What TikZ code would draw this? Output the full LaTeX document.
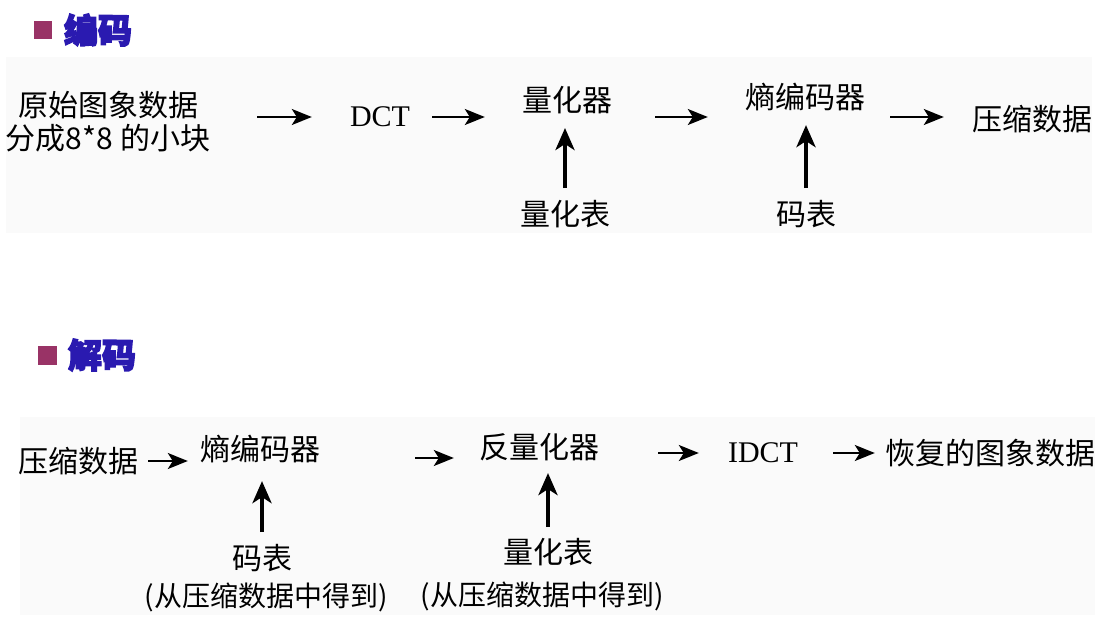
\documentclass[tikz,border=0pt]{standalone}
\usepackage{fontspec}
\setmainfont{Noto Sans CJK SC}
\newfontfamily\latinfont{Liberation Serif}
\newfontfamily\titlefont{Noto Sans CJK SC}[BoldFeatures={FakeBold=4}]
\usetikzlibrary{arrows.meta}
\definecolor{titolo}{HTML}{2A1AB0}
\definecolor{punto}{HTML}{993366}
\definecolor{fondo}{HTML}{FAFAFA}
\tikzset{
	testo/.style={inner sep=0pt, font=\fontsize{30}{33}\selectfont},
	nota/.style={inner sep=0pt, font=\fontsize{28}{32}\selectfont},
	intestazione/.style={inner sep=0pt, text=titolo, font=\fontsize{34}{38}\titlefont\bfseries},
	freccia/.style={-{Stealth[length=20pt,width=16pt,inset=5pt]}, line width=2pt},
	su/.style={-{Stealth[length=22pt,width=19pt,inset=6pt]}, line width=4pt}
}
\begin{document}
\begin{tikzpicture}[x=1pt,y=-1pt]
		\useasboundingbox (0,0) rectangle (1095,635);
		%Sfondo
		\fill [fondo] (6,57) rectangle (1092,233);
		\fill [fondo] (20,417) rectangle (1095,615);
		%Titoli
		\fill [punto] (34,21) rectangle (52,39);
		\node [intestazione] (tcod) at (98,30) {编码};
		\fill [punto] (38,346) rectangle (57,365);
		\node [intestazione] (tdec) at (102,355) {解码};
		\coordinate (r1) at (0,117);
		\coordinate (r2) at (0,458);
		%Codifica
		\node [testo, align=center] (orig) at (108,122) {原始图象数据\\分成8*8 的小块};
		\node [testo, font=\fontsize{30}{33}\latinfont] (dct) at (380,117) {DCT};
		\node [testo] (quant) at (567,100) {量化器};
		\node [testo] (entr) at (805,97) {熵编码器};
		\node [testo] (comp) at (1032,119) {压缩数据};
		\node [testo] (tquant) at (565,214) {量化表};
		\node [testo] (tcodice) at (806,214) {码表};
		\draw [freccia, shorten <=47pt, shorten >=38pt] (orig.east |- r1) -- (dct.west |- r1);
		\draw [freccia, shorten <=22pt, shorten >=37pt] (dct.east |- r1) -- (quant.west |- r1);
		\draw [freccia, shorten <=43pt, shorten >=37pt] (quant.east |- r1) -- (entr.west |- r1);
		\draw [freccia, shorten <=25pt, shorten >=28pt] (entr.east |- r1) -- (comp.west |- r1);
		\draw [su, shorten <=12pt, shorten >=14pt] (tquant.north) -- (tquant.north |- quant.south);
		\draw [su, shorten <=12pt, shorten >=14pt] (tcodice.north) -- (tcodice.north |- entr.south);
		%Decodifica
		\node [testo] (dcomp) at (78,461) {压缩数据};
		\node [testo] (dentr) at (260,449) {熵编码器};
		\node [testo] (dcodice) at (262,558) {码表};
		\node [nota] (dnota1) at (266,597) {(从压缩数据中得到)};
		\node [testo] (dquant) at (539,447) {反量化器};
		\node [testo] (dtquant) at (548,552) {量化表};
		\node [nota] (dnota2) at (542,596) {(从压缩数据中得到)};
		\node [testo, font=\fontsize{30}{33}\latinfont] (idct) at (763,453) {IDCT};
		\node [testo] (rec) at (990,453) {恢复的图象数据};
		\draw [freccia, shorten <=10pt, shorten >=12pt] (dcomp.east) -- (dcomp.east -| dentr.west);
		\draw [freccia, shorten <=95pt, shorten >=25pt] (dentr.east |- r2) -- (dquant.west |- r2);
		\draw [freccia, shorten <=59pt, shorten >=29pt] (dquant.east |- idct) -- (idct.west);
		\draw [freccia, shorten <=35pt, shorten >=10pt] (idct.east) -- (idct.east -| rec.west);
		\draw [su, shorten <=12pt, shorten >=18pt] (dcodice.north) -- (dcodice.north |- dentr.south);
		\draw [su, shorten <=11pt, shorten >=12pt] (dtquant.north) -- (dtquant.north |- dquant.south);
\end{tikzpicture}
\end{document}
